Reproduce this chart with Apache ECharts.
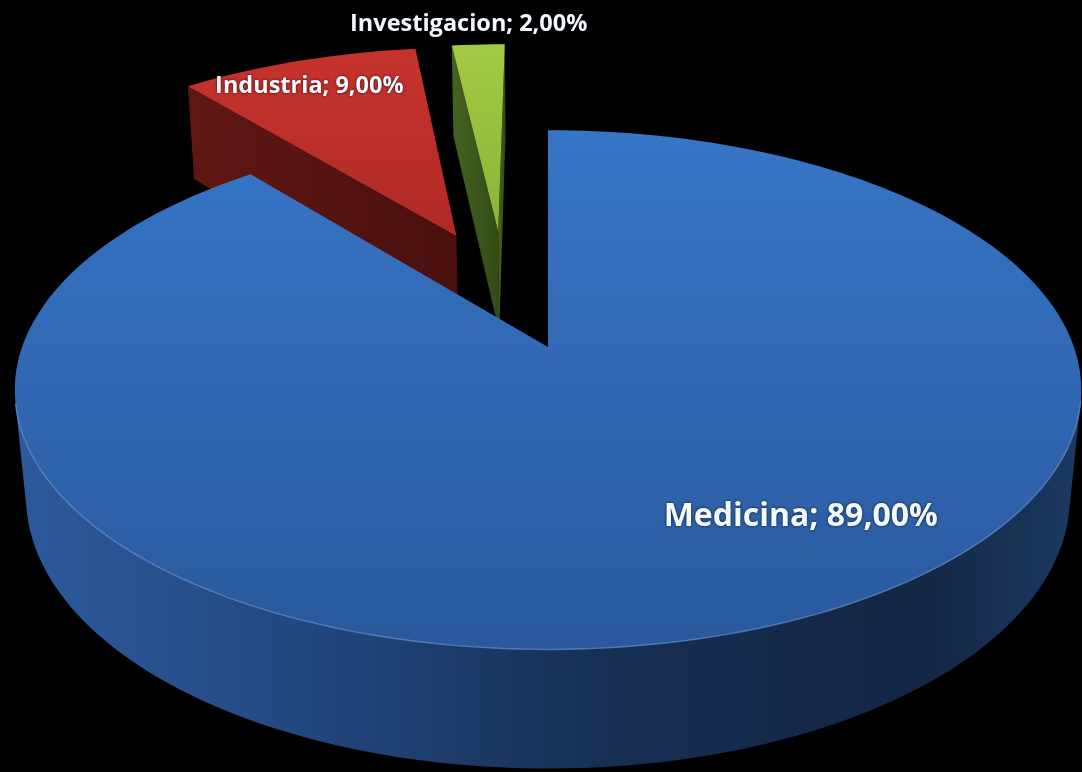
<!DOCTYPE html>
<html>
<head>
<meta charset="utf-8">
<title>Usos</title>
<script src="https://cdn.jsdelivr.net/npm/echarts@6/dist/echarts.min.js"></script>
<style>
  html, body { margin: 0; padding: 0; background: #000; }
  #chart { width: 1082px; height: 772px; }
</style>
</head>
<body>
<div id="chart"></div>
<script>
// Slice names and their shares (percent)
const categories = ['Medicina', 'Industria', 'Investigacion'];
const shares = [89, 9, 2];

// Camera / solid set-up for the tilted, exploded pie (world units: radius = 1)
const VIEW = {
  cx: 548, cy: 347,      // screen point the camera aims at
  f: 2798,               // focal length in px
  dist: 5.32,            // camera distance
  tilt: 28.7,            // elevation of the view, degrees
  radius: 1,
  depth: 0.235,          // thickness of the disc
  explode: 0.255,        // every slice pushed out along its bisector
  step: 1.5              // arc sampling, degrees
};

// Per-slice styling
const TOP_COLORS = [
  ['#3775c7', '#2a599d'],
  ['#c6332d', '#b02a26'],
  ['#a3ca44', '#8bb437']
];
const SIDE_COLORS = [
  [[0, '#2d5a9d'], [0.28, '#22477e'], [0.55, '#172f54'], [0.85, '#132643'], [1, '#1c3a63']],
  [[0, '#601714'], [1, '#4a100e']],
  [[0, '#44631f'], [1, '#334c17']]
];
const RIM_COLORS = ['rgba(120,170,235,0.55)', 'rgba(230,110,100,0.4)', 'rgba(200,230,120,0.4)'];
// label anchor: angle (deg, clockwise from 12 o'clock) and radius fraction, relative to the slice apex
const LABEL_ANCHORS = [
  { angle: 144.5, r: 0.745 },
  { angle: 335, r: 0.85 },
  { angle: 355.5, r: 1.13 }
];
const LABEL_SIZES = [32, 23.5, 23.5];

const total = shares.reduce((a, b) => a + b, 0);
const startAngles = [];
(function () {
  let acc = 0;
  shares.forEach(v => { startAngles.push(acc / total * 360); acc += v; });
})();

const rad = d => d * Math.PI / 180;
const sinT = Math.sin(rad(VIEW.tilt));
const cosT = Math.cos(rad(VIEW.tilt));

function sliceOffset(i) {
  const mid = rad(startAngles[i] + shares[i] / total * 180);
  return [VIEW.explode * Math.sin(mid), VIEW.explode * Math.cos(mid)];
}
// the camera is aimed at the apex of the first slice
const target = sliceOffset(0);
const camera = [0, VIEW.dist * sinT, -VIEW.dist * cosT];

function project(X, Y, Z) {
  X -= target[0];
  Z -= target[1];
  const yc = Z * sinT + Y * cosT;
  const zc = Z * cosT - Y * sinT;
  const s = VIEW.f / (VIEW.dist + zc);
  return [VIEW.cx + X * s, VIEW.cy - yc * s];
}
function depthOf(X, Y, Z) {
  return (Z - target[1]) * cosT - Y * sinT;
}
function facesCamera(px, pz, nx, nz) {
  const vx = camera[0] - (px - target[0]);
  const vz = camera[2] - (pz - target[1]);
  return nx * vx + nz * vz > 0;
}

// nearer slices get their walls drawn later
const wallOrder = shares.map((_, i) => {
  const o = sliceOffset(i);
  return { i, d: depthOf(o[0], 0, o[1]) };
}).sort((a, b) => b.d - a.d);
const wallZ = [];
wallOrder.forEach((w, k) => { wallZ[w.i] = 10 + k * 5; });

function gradient(stops, vertical) {
  return new echarts.graphic.LinearGradient(0, 0, vertical ? 0 : 1, vertical ? 1 : 0,
    stops.map(s => ({ offset: s[0], color: s[1] })));
}

function renderItem(params, api) {
  const i = params.dataIndex;
  const value = api.value(1);
  const a0 = startAngles[i];
  const a1 = a0 + value / total * 360;
  const [ox, oz] = sliceOffset(i);
  const R = VIEW.radius, H = VIEW.depth;
  const children = [];

  const n = Math.max(2, Math.ceil((a1 - a0) / VIEW.step));
  const angs = [];
  for (let k = 0; k <= n; k++) angs.push(a0 + (a1 - a0) * k / n);
  const rimPt = (t, y) => project(ox + R * Math.sin(rad(t)), y, oz + R * Math.cos(rad(t)));

  // outer curved wall, only the parts turned toward the viewer
  let run = [];
  const flush = () => {
    if (run.length > 1) {
      const topEdge = run.map(t => rimPt(t, 0));
      const pts = topEdge.concat(run.slice().reverse().map(t => rimPt(t, -H)));
      children.push({
        type: 'polygon', shape: { points: pts }, z2: wallZ[i],
        style: { fill: gradient(SIDE_COLORS[i], false), stroke: null }
      });
      children.push({
        type: 'polyline', shape: { points: topEdge }, z2: 200,
        style: { stroke: RIM_COLORS[i], lineWidth: 1.4, fill: null }
      });
    }
    run = [];
  };
  for (let k = 0; k < n; k++) {
    const tm = rad((angs[k] + angs[k + 1]) / 2);
    const vis = facesCamera(ox + R * Math.sin(tm), oz + R * Math.cos(tm), Math.sin(tm), Math.cos(tm));
    if (vis) {
      if (!run.length) run.push(angs[k]);
      run.push(angs[k + 1]);
    } else {
      flush();
    }
  }
  flush();

  // the two cut faces
  const apexTop = project(ox, 0, oz);
  const apexBot = project(ox, -H, oz);
  const cutFaces = [
    { t: a0, nx: -Math.cos(rad(a0)), nz: Math.sin(rad(a0)) },
    { t: a1, nx: Math.cos(rad(a1)), nz: -Math.sin(rad(a1)) }
  ];
  cutFaces.forEach(c => {
    if (facesCamera(ox, oz, c.nx, c.nz)) {
      children.push({
        type: 'polygon', z2: wallZ[i] + 1,
        shape: { points: [apexTop, rimPt(c.t, 0), rimPt(c.t, -H), apexBot] },
        style: { fill: gradient(SIDE_COLORS[i], false) }
      });
    }
  });

  // top face
  const topPts = [apexTop].concat(angs.map(t => rimPt(t, 0)));
  children.push({
    type: 'polygon', z2: 100,
    shape: { points: topPts },
    style: { fill: gradient([[0, TOP_COLORS[i][0]], [1, TOP_COLORS[i][1]]], true) }
  });

  // data label
  const la = LABEL_ANCHORS[i];
  const lp = project(ox + la.r * R * Math.sin(rad(la.angle)), 0, oz + la.r * R * Math.cos(rad(la.angle)));
  children.push({
    type: 'text', z2: 300,
    x: lp[0], y: lp[1],
    style: {
      text: categories[i] + '; ' + value.toFixed(2).replace('.', ',') + '%',
      fill: '#f4f9ff',
      font: 'bold ' + LABEL_SIZES[i] + 'px "Open Sans", sans-serif',
      align: 'center', verticalAlign: 'middle',
      textShadowColor: 'rgba(0,0,0,0.75)', textShadowBlur: 3
    }
  });

  return { type: 'group', children };
}

const chart = echarts.init(document.getElementById('chart'), null, { renderer: 'canvas' });
chart.setOption({
  backgroundColor: '#000000',
  animation: false,
  series: [{
    type: 'custom',
    coordinateSystem: 'none',
    renderItem,
    dimensions: ['index', 'share'],
    data: categories.map((c, i) => ({ name: c, value: [i, shares[i]] }))
  }]
});
</script>
</body>
</html>
